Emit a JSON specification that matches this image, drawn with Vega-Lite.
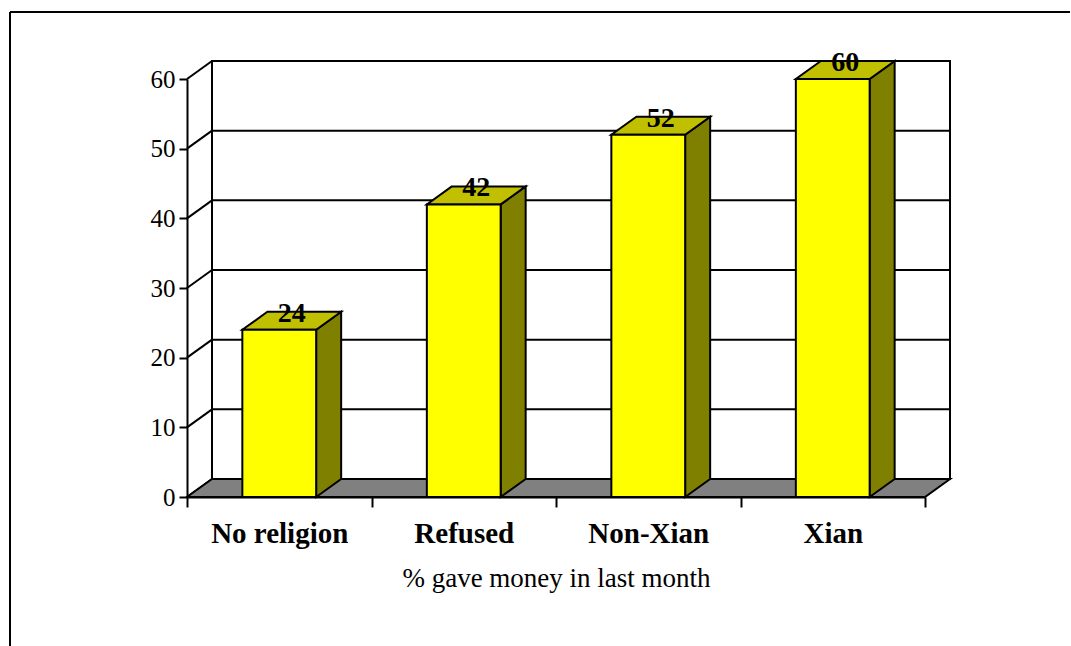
{
  "$schema": "https://vega.github.io/schema/vega-lite/v6.json",
  "width": 1061,
  "height": 634,
  "autosize": {"type": "none"},
  "padding": {"left": 10, "top": 12, "right": 0, "bottom": 0},
  "background": "white",
  "config": {
    "view": {"stroke": "black", "strokeWidth": 2, "strokeDash": [1060, 1696, 634, 0]},
    "axis": {"labelFont": "Liberation Serif", "titleFont": "Liberation Serif", "labelColor": "black", "titleColor": "black", "domainColor": "black", "tickColor": "black"},
    "text": {"font": "Liberation Serif"}
  },
  "datasets": {
    "bars": [
      {"group": "No religion", "value": 24},
      {"group": "Refused", "value": 42},
      {"group": "Non-Xian", "value": 52},
      {"group": "Xian", "value": 60}
    ],
    "ticks": [{"v": 0}, {"v": 10}, {"v": 20}, {"v": 30}, {"v": 40}, {"v": 50}, {"v": 60}]
  },
  "resolve": {"scale": {"x": "independent"}},
  "layer": [
    {
      "layer": [
        {
          "data": {"values": [{}]},
          "mark": {"type": "rect", "fill": "white", "stroke": "black", "strokeWidth": 2, "xOffset": 25, "x2Offset": 25, "yOffset": -18, "y2Offset": -18},
          "encoding": {
            "x": {"datum": 0, "type": "quantitative", "scale": {"domain": [0, 4], "range": [177, 915], "nice": false, "zero": false}, "axis": null},
            "x2": {"datum": 4},
            "y": {"datum": 0, "type": "quantitative", "scale": {"domain": [0, 60], "range": [485, 67], "nice": false, "zero": false}, "title": null},
            "y2": {"datum": 60}
          }
        },
        {
          "data": {"name": "ticks"},
          "mark": {"type": "rule", "stroke": "black", "strokeWidth": 2, "xOffset": 25, "x2Offset": 25, "yOffset": -18, "y2Offset": -18},
          "encoding": {
            "x": {"datum": 0, "type": "quantitative", "scale": {"domain": [0, 4], "range": [177, 915], "nice": false, "zero": false}, "axis": null},
            "x2": {"datum": 4},
            "y": {"field": "v", "type": "quantitative", "scale": {"domain": [0, 60], "range": [485, 67], "nice": false, "zero": false}, "title": null},
            "y2": {"field": "v"}
          }
        },
        {
          "data": {"name": "ticks"},
          "mark": {"type": "rule", "stroke": "black", "strokeWidth": 2, "x2Offset": 25, "y2Offset": -18},
          "encoding": {
            "x": {"datum": 0, "type": "quantitative", "scale": {"domain": [0, 4], "range": [177, 915], "nice": false, "zero": false}, "axis": null},
            "x2": {"datum": 0},
            "y": {"field": "v", "type": "quantitative", "scale": {"domain": [0, 60], "range": [485, 67], "nice": false, "zero": false}, "title": null},
            "y2": {"field": "v"}
          }
        },
        {
          "data": {"values": [{}]},
          "transform": [
            {"calculate": "[0, 1]", "as": "p"},
            {"flatten": ["p"]},
            {"calculate": "datum.p * 2.5837", "as": "fy"},
            {"calculate": "datum.p * 0.1355", "as": "fx0"},
            {"calculate": "4 + datum.p * 0.1355", "as": "fx1"}
          ],
          "mark": {"type": "area", "orient": "horizontal", "fill": "#808080", "stroke": "black", "strokeWidth": 2},
          "encoding": {
            "y": {"field": "fy", "type": "quantitative", "scale": {"domain": [0, 60], "range": [485, 67], "nice": false, "zero": false}, "title": null},
            "x": {"field": "fx0", "type": "quantitative", "scale": {"domain": [0, 4], "range": [177, 915], "nice": false, "zero": false}, "axis": null},
            "x2": {"field": "fx1"}
          }
        },
        {
          "data": {"name": "bars"},
          "transform": [
            {"window": [{"op": "row_number", "as": "n"}]},
            {"calculate": "[0, 1]", "as": "p"},
            {"flatten": ["p"]},
            {"calculate": "datum.n - 0.3 + datum.p * 0.1355", "as": "sx"},
            {"calculate": "datum.p * 2.5837", "as": "sy0"},
            {"calculate": "datum.value + datum.p * 2.5837", "as": "sy1"}
          ],
          "mark": {"type": "area", "orient": "vertical", "fill": "#808000", "stroke": "black", "strokeWidth": 2, "strokeJoin": "miter"},
          "encoding": {
            "x": {"field": "sx", "type": "quantitative", "scale": {"domain": [0, 4], "range": [177, 915], "nice": false, "zero": false}, "axis": null},
            "y": {"field": "sy0", "type": "quantitative", "scale": {"domain": [0, 60], "range": [485, 67], "nice": false, "zero": false}, "title": null},
            "y2": {"field": "sy1"},
            "detail": {"field": "group"}
          }
        },
        {
          "data": {"name": "bars"},
          "transform": [
            {"window": [{"op": "row_number", "as": "n"}]},
            {"calculate": "[0, 1]", "as": "p"},
            {"flatten": ["p"]},
            {"calculate": "datum.n - 0.7 + datum.p * 0.1355", "as": "tx0"},
            {"calculate": "datum.n - 0.3 + datum.p * 0.1355", "as": "tx1"},
            {"calculate": "datum.value + datum.p * 2.5837", "as": "ty"}
          ],
          "mark": {"type": "area", "orient": "horizontal", "fill": "#C0C000", "stroke": "black", "strokeWidth": 2, "strokeJoin": "miter"},
          "encoding": {
            "y": {"field": "ty", "type": "quantitative", "scale": {"domain": [0, 60], "range": [485, 67], "nice": false, "zero": false}, "title": null},
            "x": {"field": "tx0", "type": "quantitative", "scale": {"domain": [0, 4], "range": [177, 915], "nice": false, "zero": false}, "axis": null},
            "x2": {"field": "tx1"},
            "detail": {"field": "group"}
          }
        }
      ]
    },
    {
      "data": {"name": "bars"},
      "layer": [
        {
          "mark": {"type": "bar", "fill": "#FFFF00", "stroke": "black", "strokeWidth": 2, "width": {"band": 0.4}},
          "encoding": {
            "x": {
              "field": "group", "type": "nominal", "sort": null,
              "scale": {"type": "band", "domain": ["No religion", "Refused", "Non-Xian", "Xian"], "range": [177, 915], "paddingInner": 0, "paddingOuter": 0},
              "axis": {"orient": "bottom", "offset": -149, "tickBand": "extent", "tickSize": 10, "tickWidth": 2, "domainWidth": 2, "labelPadding": 12, "labelFontSize": 29, "labelFontWeight": "bold", "labelAngle": 0, "labelOverlap": false, "labelLimit": 0, "grid": false, "title": "% gave money in last month", "titleFontSize": 27, "titleFontWeight": "normal", "titlePadding": 17}
            },
            "y": {
              "field": "value", "type": "quantitative",
              "scale": {"domain": [0, 60], "range": [485, 67], "nice": false, "zero": false},
              "axis": {"orient": "left", "offset": -177, "values": [0, 10, 20, 30, 40, 50, 60], "tickSize": 8, "tickWidth": 2, "domainWidth": 2, "labelPadding": 4, "labelFontSize": 25, "labelFlush": false, "grid": false, "title": null}
            }
          }
        },
        {
          "mark": {"type": "text", "fontSize": 28, "fontWeight": "bold", "align": "center", "baseline": "alphabetic", "xOffset": 12.5, "yOffset": -8, "color": "black"},
          "encoding": {
            "x": {"field": "group", "type": "nominal", "sort": null, "scale": {"type": "band", "domain": ["No religion", "Refused", "Non-Xian", "Xian"], "range": [177, 915], "paddingInner": 0, "paddingOuter": 0}},
            "y": {"field": "value", "type": "quantitative", "scale": {"domain": [0, 60], "range": [485, 67], "nice": false, "zero": false}, "title": null},
            "text": {"field": "value", "type": "quantitative"}
          }
        }
      ]
    }
  ]
}
